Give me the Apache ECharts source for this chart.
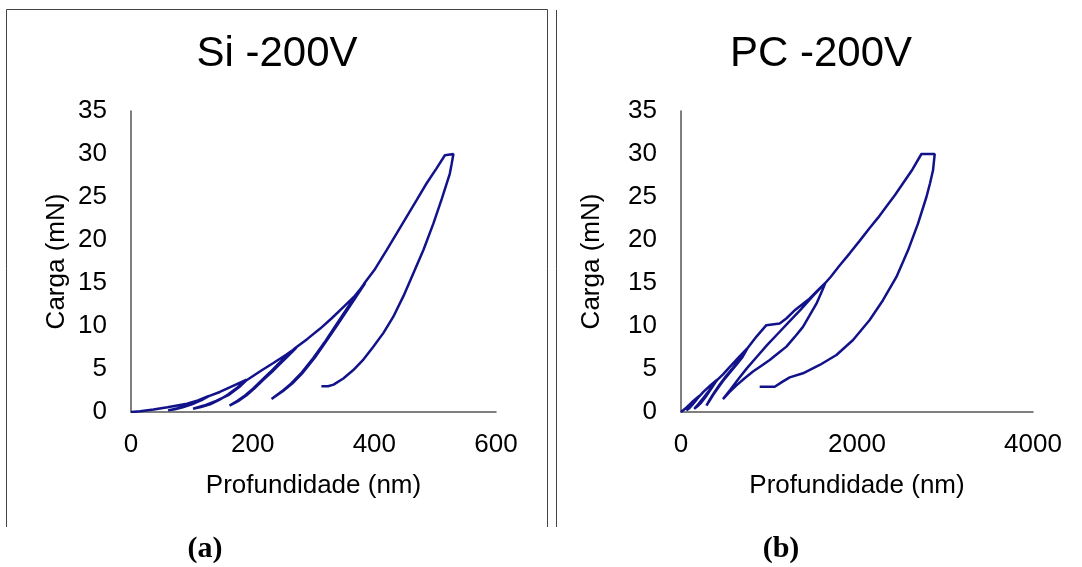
<!DOCTYPE html>
<html>
<head>
<meta charset="utf-8">
<script src="https://cdn.jsdelivr.net/npm/echarts@6/dist/echarts.min.js"></script>
<style>
html,body{margin:0;padding:0;background:#fff;}
#c{width:1082px;height:567px;}
</style>
</head>
<body>
<div id="c"></div>
<script>
// ---- data (depth nm, load mN) ----
const siTitle = 'Si -200V';
const pcTitle = 'PC -200V';
const yTicks = [0, 5, 10, 15, 20, 25, 30, 35];
const siXTicks = [0, 200, 400, 600];
const pcXTicks = [0, 2000, 4000];
const xName = 'Profundidade (nm)';
const yName = 'Carga (mN)';

const siCurve = [
  [0,0],[15,0.08],[37,0.28],[60,0.55],[92,0.97],[110,1.35],[128,1.875],
  [115,1.35],[100,0.9],[85,0.55],[72,0.33],[61,0.19],
  [75,0.4],[90,0.7],[105,1.05],[118,1.45],[128,1.85],
  [146,2.33],[165,2.95],[190,3.75],
  [175,2.85],[160,2.05],[145,1.4],[130,0.9],[115,0.57],[102,0.375],
  [120,0.75],[140,1.3],[160,1.95],[178,2.9],[190,3.7],
  [193,3.9],[215,4.85],[234,5.7],[255,6.65],[272,7.5],
  [258,6.5],[245,5.6],[231,4.6],[217,3.7],[203,2.75],[190,1.95],[176,1.25],[162,0.75],
  [175,1.3],[188,1.95],[201,2.75],[215,3.7],[229,4.65],[243,5.65],[257,6.6],[270,7.45],
  [290,8.5],[311,9.7],[330,10.9],[349,12.2],[368,13.5],[385,15],
  [370,13.4],[355,11.8],[338,10.0],[322,8.34],[302,6.3],[281,4.46],[265,3.3],[250,2.45],[231,1.5],
  [248,2.4],[263,3.3],[279,4.45],[300,6.3],[320,8.3],[336,10],[353,11.8],[368,13.4],[383,14.9],
  [400,16.5],[420,18.8],[437,20.8],[453,22.7],[470,24.7],[486,26.6],[502,28.3],[516,29.85],[519,30],
  [530,30],
  [527,28.8],[524,27.7],[511,24.8],[497,21.9],[481,18.9],[464,16.1],[448,13.5],[431,11.05],[415,9.2],
  [398,7.56],[382,6.1],[365,4.85],[349,3.9],[333,3.18],[324,3.0],[313,3.0]
];

const pcCurve = [
  [0,0],[60,0.5],[120,1.1],[210,1.9],
  [170,1.35],[130,0.85],[95,0.45],[61,0.19],
  [100,0.6],[140,1.05],[180,1.5],[210,1.85],
  [260,2.4],[330,3.05],[410,3.75],
  [350,2.8],[290,1.9],[230,1.1],[180,0.6],[150,0.375],
  [200,0.95],[260,1.7],[320,2.5],[370,3.2],[410,3.7],
  [480,4.4],[560,5.3],[650,6.3],[761,7.5],
  [700,6.4],[630,5.5],[550,4.5],[477,3.6],[420,2.8],[364,1.98],[320,1.25],[289,0.75],
  [330,1.5],[380,2.3],[440,3.2],[510,4.15],[590,5.15],[670,6.2],[755,7.4],
  [860,8.8],[970,10.1],[1122,10.3],[1200,10.9],[1300,11.9],[1463,13.2],[1550,14.1],[1640,15],
  [1600,14.0],[1539,12.6],[1460,11.2],[1386,9.9],[1290,8.7],[1198,7.6],[1100,6.8],[1008,6.05],
  [910,5.35],[818,4.7],[720,3.9],[630,3.1],[550,2.3],[477,1.5],
  [560,2.6],[650,3.8],[750,5.1],[860,6.4],[980,7.8],[1100,9.1],[1230,10.5],[1360,11.9],[1500,13.5],[1640,15],
  [1700,15.7],[1800,17],[1917,18.45],[2030,19.9],[2144,21.4],[2240,22.6],[2334,23.9],[2430,25.2],[2523,26.6],[2630,28.2],[2732,30],
  [2883,30],
  [2864,28.1],[2830,26.6],[2789,25.0],[2693,21.9],[2580,18.8],[2448,15.7],[2295,13.0],[2144,10.7],
  [1955,8.37],[1766,6.63],[1576,5.47],[1386,4.5],[1235,4.03],[1150,3.5],[1065,2.94],[894,2.94]
];

// ---- chart ----
const FONT = 'Liberation Sans, Arial, sans-serif';
const lineColor = '#12128a';
const axisColor = '#555';

function xAxisFor(idx, ticks, gap) {
  return {
    type: 'value', gridIndex: idx,
    min: ticks[0], max: ticks[ticks.length - 1], interval: ticks[1] - ticks[0],
    name: xName, nameLocation: 'middle', nameGap: gap,
    nameTextStyle: {fontFamily: FONT, fontSize: 26, color: '#000'},
    axisLine: {show: true, onZero: false, lineStyle: {color: axisColor, width: 1.5}},
    axisTick: {show: false},
    splitLine: {show: false},
    axisLabel: {fontFamily: FONT, fontSize: 26, color: '#000', margin: 20,
                formatter: function (v) { return String(v); }}
  };
}
function yAxisFor(idx, gap) {
  return {
    type: 'value', gridIndex: idx,
    min: yTicks[0], max: yTicks[yTicks.length - 1], interval: yTicks[1] - yTicks[0],
    name: yName, nameLocation: 'middle', nameGap: gap, nameRotate: 90,
    nameTextStyle: {fontFamily: FONT, fontSize: 26, color: '#000'},
    axisLine: {show: true, onZero: false, lineStyle: {color: axisColor, width: 1.5}},
    axisTick: {show: false},
    splitLine: {show: false},
    axisLabel: {fontFamily: FONT, fontSize: 26, color: '#000', margin: 24}
  };
}

const chart = echarts.init(document.getElementById('c'), null, {renderer: 'canvas'});
chart.setOption({
  animation: false,
  backgroundColor: '#fff',
  grid: [
    {left: 131, top: 111, width: 365, height: 301},
    {left: 681, top: 111, width: 352, height: 301}
  ],
  xAxis: [xAxisFor(0, siXTicks, 61), xAxisFor(1, pcXTicks, 61)],
  yAxis: [yAxisFor(0, 61), yAxisFor(1, 76)],
  series: [
    {type: 'line', xAxisIndex: 0, yAxisIndex: 0, data: siCurve, showSymbol: false,
     lineStyle: {color: lineColor, width: 2.5}, silent: true},
    {type: 'line', xAxisIndex: 1, yAxisIndex: 1, data: pcCurve, showSymbol: false,
     lineStyle: {color: lineColor, width: 2.5}, silent: true}
  ],
  graphic: [
    {type: 'polyline', shape: {points: [[6.5,527],[6.5,9.5],[547.5,9.5],[547.5,527]]},
     style: {stroke: '#444', lineWidth: 1, fill: null}},
    {type: 'line', shape: {x1: 556.5, y1: 10, x2: 556.5, y2: 527},
     style: {stroke: '#444', lineWidth: 1}},
    {type: 'text', x: 277, y: 54,
     style: {text: siTitle, font: '42px ' + FONT, fill: '#000', textAlign: 'center', textVerticalAlign: 'middle'}},
    {type: 'text', x: 821, y: 54,
     style: {text: pcTitle, font: '42px ' + FONT, fill: '#000', textAlign: 'center', textVerticalAlign: 'middle'}},
    {type: 'text', x: 205, y: 549,
     style: {text: '(a)', font: 'bold 30px Liberation Serif, Times New Roman, serif', fill: '#000', textAlign: 'center', textVerticalAlign: 'middle'}},
    {type: 'text', x: 781, y: 549,
     style: {text: '(b)', font: 'bold 30px Liberation Serif, Times New Roman, serif', fill: '#000', textAlign: 'center', textVerticalAlign: 'middle'}}
  ]
});
</script>
</body>
</html>
